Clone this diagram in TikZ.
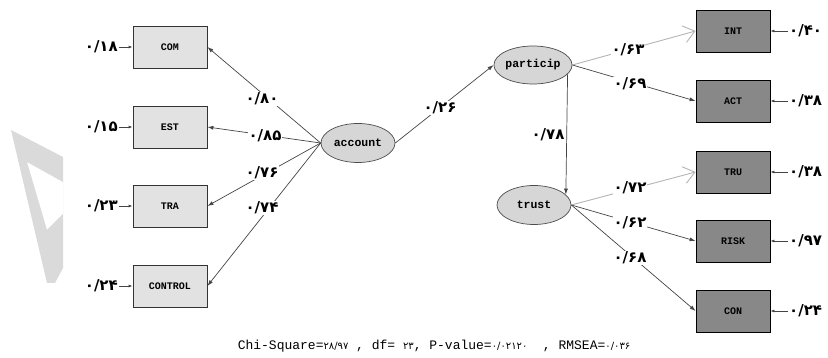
\documentclass[tikz,border=0pt]{standalone}
\usepackage{fontspec}
\usetikzlibrary{arrows.meta,shapes.geometric,calc}
\newfontfamily\fanum[Script=Arabic]{DejaVu Sans}
\newfontfamily\monob{Liberation Mono}
\definecolor{boxL}{HTML}{E2E2E2}
\definecolor{boxR}{HTML}{888888}
\definecolor{ellc}{HTML}{D6D6D6}
\definecolor{wmark}{HTML}{DADADA}
\definecolor{lnc}{HTML}{444444}
\definecolor{glc}{HTML}{B4B4B4}
\newcommand{\pn}[1]{{\fanum\fontsize{10}{10}\selectfont #1}}
\begin{document}
\begin{tikzpicture}[x=1pt,y=-1pt,
  obsL/.style={draw=black!80, line width=0.8pt, fill=boxL, minimum width=74pt, minimum height=42pt, inner sep=0pt, font=\monob\bfseries\fontsize{10}{10}\selectfont},
  obsR/.style={obsL, fill=boxR, draw=black},
  lat/.style={ellipse, draw=black!70, line width=0.7pt, fill=ellc, inner sep=0pt, minimum width=74pt, minimum height=39pt, font=\monob\bfseries\fontsize{11.5}{11.5}\selectfont},
  coef/.style={font=\fanum\bfseries\fontsize{15}{15}\selectfont, fill=white, inner sep=1pt},
  errlab/.style={font=\fanum\bfseries\fontsize{15}{15}\selectfont, inner sep=1pt},
  lnk/.style={draw=lnc, line width=0.7pt, -{Latex[length=6pt,width=4pt]}},
  glnk/.style={draw=glc, line width=0.9pt, -{Straight Barb[length=11pt,width=17pt,line width=0.9pt]}},
  errar/.style={draw=lnc, line width=0.8pt, -{Latex[length=4pt,width=3pt]}}
]
\useasboundingbox (0,0) rectangle (828,358);
% watermark
\fill[wmark, even odd rule] (11,130) -- (63,157) -- (63,268) -- (55,283) -- (47,283) -- cycle
  (27,162) -- (63,182) -- (63,214) -- (47,230) -- cycle;

% latent variables
\node[lat] (account) at (358,143) {account};
\node[lat, minimum width=72pt, minimum height=38pt] (particip) at (533,65) {particip};
\node[lat] (trust) at (534,205) {trust};

% observed left
\node[obsL] (com) at (170,47) {COM};
\node[obsL] (est) at (170,127) {EST};
\node[obsL] (tra) at (170,206) {TRA};
\node[obsL] (control) at (170,286) {CONTROL};

% observed right
\node[obsR] (int) at (733,31) {INT};
\node[obsR] (act) at (733,101) {ACT};
\node[obsR] (tru) at (733,172) {TRU};
\node[obsR] (risk) at (733,241) {RISK};
\node[obsR] (con) at (733,311) {CON};

% paths
\draw[lnk] (account.west) -- (com.east);
\draw[lnk] (account.west) -- (est.east);
\draw[lnk] (account.west) -- (tra.east);
\draw[lnk] (account.west) -- (control.east);
\draw[lnk] (account.east) -- (particip.west);
\draw[lnk] (particip.-15) -- (trust.18);
\draw[glnk] (particip.east) -- (int.west);
\draw[lnk] (particip.east) -- (act.west);
\draw[glnk] (trust.east) -- (tru.west);
\draw[lnk] (trust.east) -- (risk.west);
\draw[lnk] (trust.east) -- (con.west);

% coefficients
\node[coef] (c1) at (262,99) {۰/۸۰};
\node[coef] (c2) at (265,136) {۰/۸۵};
\node[coef] (c3) at (262,173) {۰/۷۶};
\node[coef] (c4) at (262,208) {۰/۷۴};
\node[coef] (c5) at (440,108) {۰/۲۶};
\node[coef] (c6) at (548,135) {۰/۷۸};
\node[coef] (c7) at (628,50) {۰/۶۳};
\node[coef] (c8) at (630,84) {۰/۶۹};
\node[coef] (c9) at (630,188) {۰/۷۲};
\node[coef] (c10) at (630,223) {۰/۶۲};
\node[coef] (c11) at (630,258) {۰/۶۸};

% error terms left
\node[errlab, anchor=east] (e1) at (119,47) {۰/۱۸};
\node[errlab, anchor=east] (e2) at (119,127) {۰/۱۵};
\node[errlab, anchor=east] (e3) at (119,206) {۰/۲۳};
\node[errlab, anchor=east] (e4) at (119,286) {۰/۲۴};
\draw[errar] (e1) -- (com);
\draw[errar] (e2) -- (est);
\draw[errar] (e3) -- (tra);
\draw[errar] (e4) -- (control);

% error terms right
\node[errlab, anchor=west] (e5) at (788,31) {۰/۴۰};
\node[errlab, anchor=west] (e6) at (788,101) {۰/۳۸};
\node[errlab, anchor=west] (e7) at (788,172) {۰/۳۸};
\node[errlab, anchor=west] (e8) at (788,241) {۰/۹۷};
\node[errlab, anchor=west] (e9) at (788,311) {۰/۲۴};
\draw[errar] (e5) -- (int);
\draw[errar] (e6) -- (act);
\draw[errar] (e7) -- (tru);
\draw[errar] (e8) -- (risk);
\draw[errar] (e9) -- (con);

% fit statistics
\node[font=\monob\fontsize{13}{15}\selectfont, inner sep=0pt] (fit) at (434,346)
  {Chi-Square=\pn{۲۸/۹۷} , df= \pn{۲۳}, P-value=\pn{۰/۰۲۱۲۰}~~, RMSEA=\pn{۰/۰۳۶}};
\end{tikzpicture}
\end{document}
